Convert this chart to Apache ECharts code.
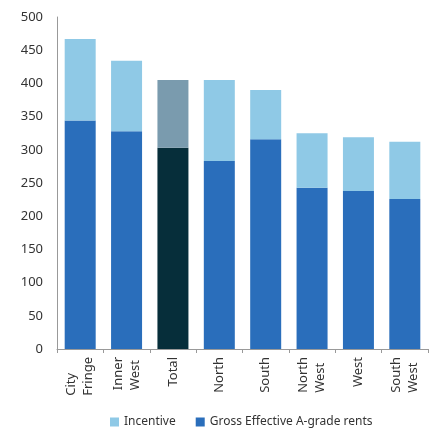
<!DOCTYPE html>
<html><head><meta charset="utf-8">
<script src="https://cdn.jsdelivr.net/npm/echarts@6/dist/echarts.min.js"></script>
<style>html,body{margin:0;padding:0;background:#fff}#c{width:433px;height:428px}</style>
</head><body><div id="c"></div>
<script>
const categories = ['City\nFringe','Inner\nWest','Total','North','South','North\nWest','West','South\nWest'];
const grossRents = [344, 328, 303, 283, 316, 243, 238, 226];
const incentive = [123, 106, 102, 122, 74, 82, 81, 86];
const yTicks = [0, 50, 100, 150, 200, 250, 300, 350, 400, 450, 500];
const totalIndex = 2;

const baseColor = '#2A6EBB', topColor = '#8FC9E6';
const totBase = '#062E3A', totTop = '#7A9BAE';

const chart = echarts.init(document.getElementById('c'));
chart.setOption({
  animation: false,
  textStyle: {fontFamily: 'Noto Sans'},
  grid: {left: 57, right: 5, top: 17, bottom: 79},
  legend: {
    top: 411, left: 105, itemWidth: 9, itemHeight: 9, itemGap: 20,
    icon: 'rect',
    textStyle: {fontSize: 12, color: '#333', fontFamily: 'Noto Sans'},
    data: ['Incentive', 'Gross Effective A-grade rents']
  },
  xAxis: {
    type: 'category', data: categories,
    axisLine: {lineStyle: {color: '#999'}},
    axisTick: {show: true, alignWithLabel: false, length: 4, lineStyle: {color: '#999'}},
    axisLabel: {
      rotate: 90, interval: 0, fontSize: 13, color: '#333', margin: 8,
      formatter: v => v.split('\n').map(l => '{a|' + l + '}').join('\n'),
      rich: {a: {align: 'left', fontSize: 13, lineHeight: 17, color: '#333', fontFamily: 'Noto Sans'}}
    }
  },
  yAxis: {
    type: 'value', min: yTicks[0], max: yTicks[yTicks.length-1], interval: 50,
    axisLine: {show: true, lineStyle: {color: '#999'}},
    axisTick: {show: false},
    splitLine: {show: false},
    axisLabel: {fontSize: 13, color: '#333', margin: 14}
  },
  series: [
    {name: 'Gross Effective A-grade rents', type: 'bar', stack: 's', barWidth: 31,
     itemStyle: {color: baseColor},
     data: grossRents.map((v,i) => i === totalIndex ? {value: v, itemStyle: {color: totBase}} : v)},
    {name: 'Incentive', type: 'bar', stack: 's', barWidth: 31,
     itemStyle: {color: topColor},
     data: incentive.map((v,i) => i === totalIndex ? {value: v, itemStyle: {color: totTop}} : v)}
  ]
});
</script></body></html>
